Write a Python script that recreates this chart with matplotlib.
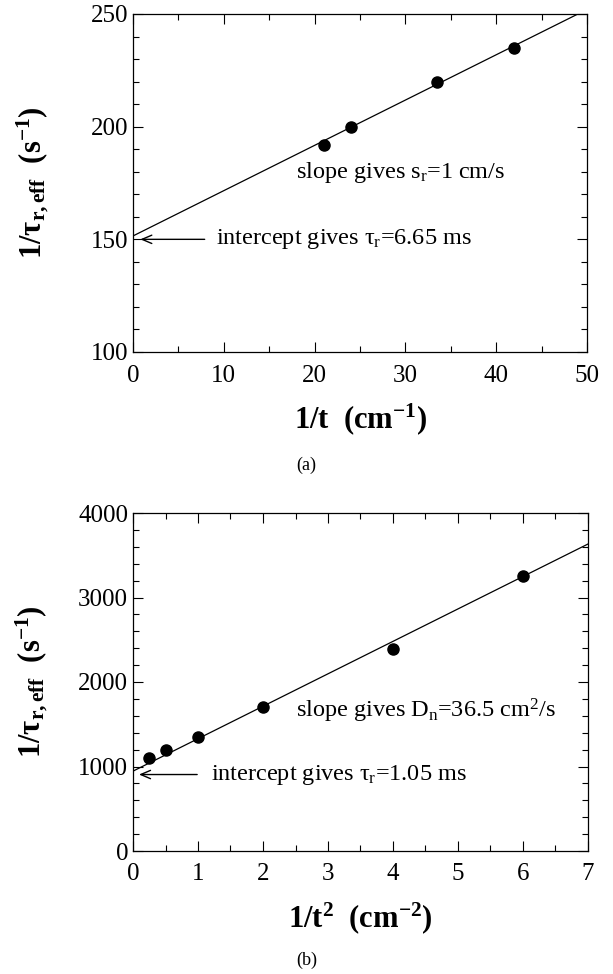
import matplotlib
matplotlib.use("Agg")
import matplotlib.pyplot as plt
from matplotlib.ticker import MultipleLocator

plt.rcParams['font.family'] = ['Liberation Serif', 'DejaVu Serif']
plt.rcParams['mathtext.fontset'] = 'custom'
plt.rcParams['mathtext.rm'] = 'Liberation Serif'
plt.rcParams['mathtext.it'] = 'Liberation Serif'
plt.rcParams['mathtext.bf'] = 'Liberation Serif:bold'

# panel (a)
inv_t = [21, 24, 33.5, 42]
rate_a = [192, 200, 220, 235]
fit_a_x = [0, 49]
fit_a_y = [151.5, 250]

# panel (b)
inv_t2 = [0.25, 0.5, 1, 2, 4, 6]
rate_b = [1100, 1190, 1348, 1702, 2396, 3255]
fit_b_x = [0, 7]
fit_b_y = [945, 3633]

fig = plt.figure(figsize=(6.13, 9.74), dpi=100)
ax1 = fig.add_axes([133/613, 1-352/974, 454/613, 338/974])
ax2 = fig.add_axes([133/613, 1-851/974, 455/613, 338/974])

ylab = r'1/$\mathbf{\tau_{r,eff}}$  (s$^{\mathbf{-1}}$)'


def style(ax):
    ax.tick_params(which='both', direction='in', top=True, right=True, labelsize=18)
    ax.tick_params(which='major', length=7.5, width=0.8)
    ax.tick_params(which='minor', length=4, width=0.8)
    ax.tick_params(axis='x', pad=9)
    for s in ax.spines.values():
        s.set_linewidth(0.9)
    ax.yaxis.set_label_coords(-0.22, 0.5)
    ax.xaxis.set_label_coords(0.5, -0.2)
    ax.xaxis.label.set_va('center')
    ax.yaxis.label.set_va('center')


arrow = dict(arrowstyle='->, head_length=0.7, head_width=0.3', color='black', lw=1.0)

# (a)
ax1.plot(fit_a_x, fit_a_y, color='black', lw=0.9)
ax1.plot(inv_t, rate_a, 'o', color='black', ms=8)
ax1.set_xlim(0, 50)
ax1.set_ylim(100, 250)
ax1.xaxis.set_major_locator(MultipleLocator(10))
ax1.xaxis.set_minor_locator(MultipleLocator(5))
ax1.yaxis.set_major_locator(MultipleLocator(50))
ax1.yaxis.set_minor_locator(MultipleLocator(10))
ax1.set_xlabel(r'1/t  (cm$^{\mathbf{-1}}$)', fontsize=22, fontweight='bold')
ax1.set_ylabel(ylab, fontsize=22, fontweight='bold')
style(ax1)
ax1.annotate('', xy=(0.5, 150), xytext=(8.2, 150), arrowprops=arrow)
ax1.text(9.1, 150, r'intercept gives $\tau_r$=6.65 ms', fontsize=17.5, va='center')
ax1.text(18.0, 179.5, r'slope gives s$_r$=1 cm/s', fontsize=17.5, va='center')
fig.text(0.5, 1-465/974, '(a)', ha='center', va='center', fontsize=13)

# (b)
ax2.plot(fit_b_x, fit_b_y, color='black', lw=0.9)
ax2.plot(inv_t2, rate_b, 'o', color='black', ms=8)
ax2.set_xlim(0, 7)
ax2.set_ylim(0, 4000)
ax2.xaxis.set_major_locator(MultipleLocator(1))
ax2.xaxis.set_minor_locator(MultipleLocator(0.5))
ax2.yaxis.set_major_locator(MultipleLocator(1000))
ax2.yaxis.set_minor_locator(MultipleLocator(200))
ax2.set_xlabel(r'1/t$^{\mathbf{2}}$  (cm$^{\mathbf{-2}}$)', fontsize=22, fontweight='bold')
ax2.set_ylabel(ylab, fontsize=22, fontweight='bold')
style(ax2)
ax2.annotate('', xy=(0.05, 905), xytext=(1.03, 905), arrowprops=arrow)
ax2.text(1.2, 905, r'intercept gives $\tau_r$=1.05 ms', fontsize=17.5, va='center')
ax2.text(2.5, 1654, r'slope gives D$_n$=36.5 cm$^2$/s', fontsize=17.5, va='center')
fig.text(0.5, 1-960/974, '(b)', ha='center', va='center', fontsize=13)

fig.savefig('out.png', dpi=100)
